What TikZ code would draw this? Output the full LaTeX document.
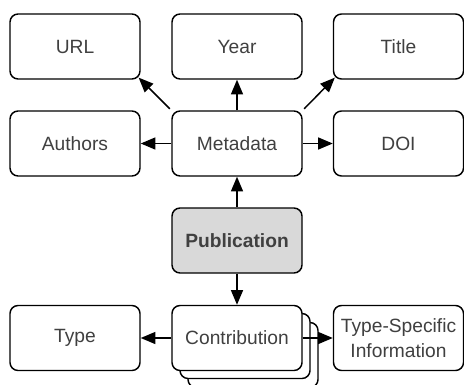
\documentclass[tikz,border=0pt]{standalone}
\usepackage{fontspec}
\setmainfont{Liberation Sans}
\usetikzlibrary{arrows.meta}

\definecolor{txtgray}{RGB}{64,64,64}
\definecolor{pubfill}{RGB}{217,217,217}

\tikzset{
	box/.style={draw=black,line width=1.1pt,rounded corners=6pt,fill=white,
		minimum width=97.5pt,minimum height=48.75pt,inner sep=0pt,
		text=txtgray,font=\fontsize{14.4}{18.5}\selectfont,align=center},
	arr/.style={line width=1.1pt,-{Triangle[length=11pt,width=9pt]}},
}

\begin{document}
\begin{tikzpicture}[x=0.75pt,y=0.75pt,yscale=-1,xscale=1]
	\useasboundingbox (0,0) rectangle (464,385);

	%top row
	\node[box] (url) at (75,46.5) {URL};
	\node[box] (year) at (237,46.5) {Year};
	\node[box] (title) at (398.5,46.5) {Title};

	%middle row
	\node[box] (authors) at (75,143.5) {Authors};
	\node[box] (meta) at (237,143.5) {Metadata};
	\node[box] (doi) at (398.5,143.5) {DOI};

	%publication
	\node[box,fill=pubfill,font=\fontsize{14.4}{16}\selectfont\bfseries] (pub) at (237,240.5) {Publication};

	%contribution stack
	\node[box] (contrib3) at (253,355) {};
	\node[box] (contrib2) at (245,346) {};
	\node[box] (contrib) at (237,338) {Contribution};

	%bottom row
	\node[box] (type) at (75,338) {Type};
	\node[box] (spec) at (398.5,338) {Type-Specific\\Information};

	%connectors
	\draw[arr] (meta) -- (authors);
	\draw[arr] (meta) -- (doi);
	\draw[arr] (meta) -- (year);
	\draw[arr,shorten <=1.5pt,shorten >=-2.2pt] (meta.north west) -- (url.south east);
	\draw[arr,shorten <=1.5pt,shorten >=-2.2pt] (meta.north east) -- (title.south west);
	\draw[arr] (pub) -- (meta);
	\draw[arr] (pub) -- (contrib);
	\draw[arr] (contrib) -- (type);
	\draw[arr] (contrib.east) -- (spec.west);

\end{tikzpicture}
\end{document}
